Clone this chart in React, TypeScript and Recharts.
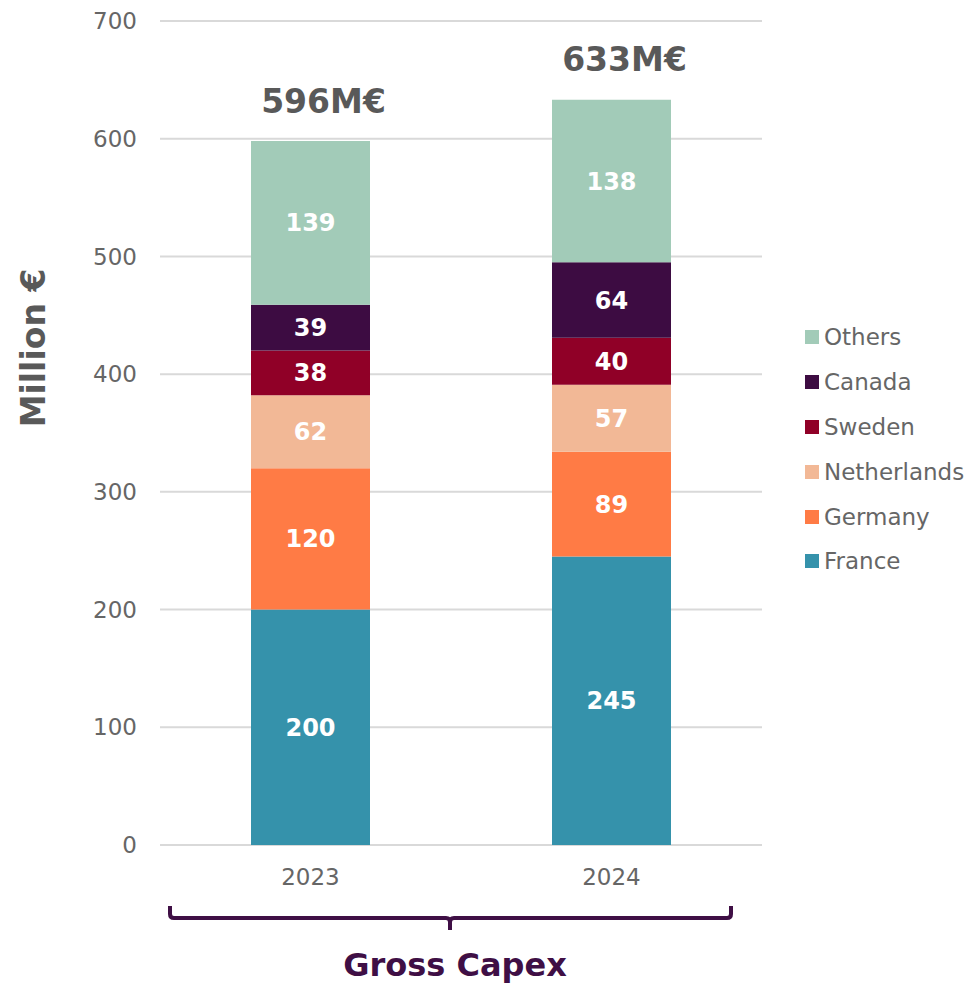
import { Bar, BarChart, CartesianGrid, LabelList, XAxis, YAxis } from "recharts";

const years = ["2023", "2024"];
const france = [200, 245];
const germany = [120, 89];
const netherlands = [62, 57];
const sweden = [38, 40];
const canada = [39, 64];
const others = [139, 138];
const totalLabels = ["596M€", "633M€"];
const yTicks = [0, 100, 200, 300, 400, 500, 600, 700];

const series = [
  { key: "France", values: france, color: "#3592AB" },
  { key: "Germany", values: germany, color: "#FF7B45" },
  { key: "Netherlands", values: netherlands, color: "#F2B896" },
  { key: "Sweden", values: sweden, color: "#900027" },
  { key: "Canada", values: canada, color: "#3D0C42" },
  { key: "Others", values: others, color: "#A2CBB8" },
];

const data = years.map((year, i) => {
  const row: Record<string, string | number> = { year };
  series.forEach((s) => (row[s.key] = s.values[i]));
  return row;
});

const FONT = "'DejaVu Sans', Verdana, sans-serif";
const GREY = "#595959";
const PURPLE = "#3F0F45";

function TotalLabel(props: any) {
  const { x, y, width, index } = props;
  return (
    <text
      x={x + width / 2 + 13}
      y={y - 40}
      textAnchor="middle"
      dominantBaseline="central"
      fontFamily={FONT}
      fontWeight="bold"
      fontSize={33}
      fill={GREY}
    >
      {totalLabels[index]}
    </text>
  );
}

export default function App() {
  return (
    <div style={{ position: "relative", width: 971, height: 985, fontFamily: FONT }}>
      <style>{`body{margin:0}`}</style>
      <BarChart
        width={971}
        height={985}
        data={data}
        margin={{ top: 21, right: 209, bottom: 110, left: 100 }}
      >
        <CartesianGrid vertical={false} stroke="#D9D9D9" strokeWidth={2} />
        <XAxis
          dataKey="year"
          axisLine={false}
          tickLine={false}
          tickMargin={18}
          tick={{ fill: "#666666", fontSize: 23, fontFamily: FONT }}
        />
        <YAxis
          domain={[0, 700]}
          ticks={yTicks}
          width={60}
          axisLine={false}
          tickLine={false}
          tickMargin={17}
          tick={{ fill: "#666666", fontSize: 23, fontFamily: FONT }}
          label={() => (
            <text
              x={33}
              y={348}
              transform="rotate(-90 33 348)"
              textAnchor="middle"
              dominantBaseline="central"
              fontFamily={FONT}
              fontWeight="bold"
              fontSize={33}
              fill={GREY}
            >
              Million €
            </text>
          )}
        />
        {series.map((s, i) => (
          <Bar
            key={s.key}
            dataKey={s.key}
            stackId="a"
            fill={s.color}
            barSize={119}
            isAnimationActive={false}
          >
            <LabelList
              dataKey={s.key}
              position="center"
              fill="#FFFFFF"
              fontFamily={FONT}
              fontWeight="bold"
              fontSize={24}
            />
            {i === series.length - 1 && <LabelList dataKey={s.key} content={TotalLabel} />}
          </Bar>
        ))}
      </BarChart>

      <div style={{ position: "absolute", left: 805, top: 315 }}>
        {[...series].reverse().map((s) => (
          <div
            key={s.key}
            style={{ display: "flex", alignItems: "center", height: 44.8, fontSize: 23, color: "#666666" }}
          >
            <span style={{ width: 14, height: 14, background: s.color, marginRight: 5 }} />
            {s.key}
          </div>
        ))}
      </div>

      <svg
        width={971}
        height={985}
        style={{ position: "absolute", left: 0, top: 0, pointerEvents: "none" }}
      >
        <path
          d="M170 906 V914 Q170 918 174 918 H446 Q450 918 450 922 V930 M450 922 Q450 918 454 918 H727 Q731 918 731 914 V906"
          fill="none"
          stroke={PURPLE}
          strokeWidth={4}
        />
        <text
          x={455}
          y={965}
          textAnchor="middle"
          dominantBaseline="central"
          fontFamily={FONT}
          fontWeight="bold"
          fontSize={32}
          fill={PURPLE}
        >
          Gross Capex
        </text>
      </svg>
    </div>
  );
}
